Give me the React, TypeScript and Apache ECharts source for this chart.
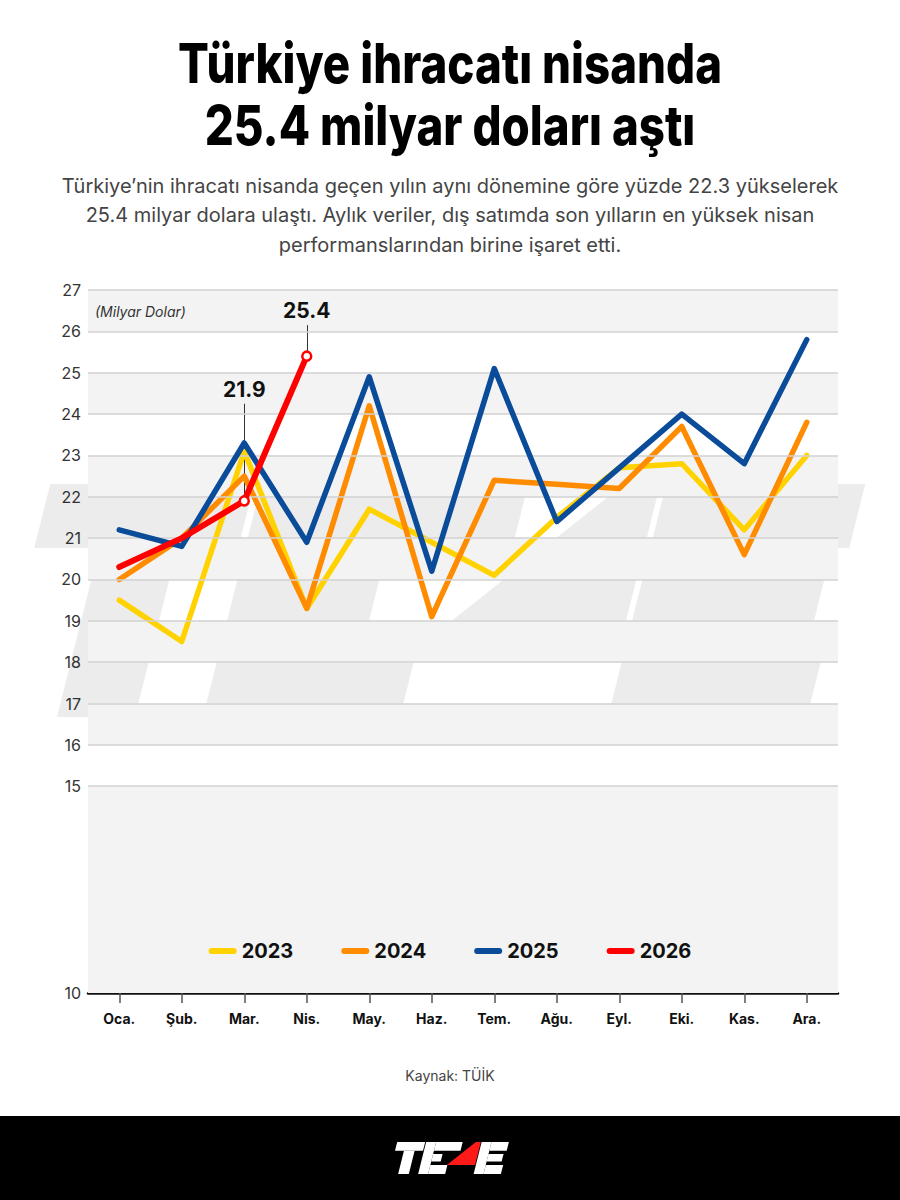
import React, { useEffect, useRef } from "react";
import * as echarts from "echarts";

// Monthly export values (billion USD)
const MONTHS = ["Oca.", "Şub.", "Mar.", "Nis.", "May.", "Haz.", "Tem.", "Ağu.", "Eyl.", "Eki.", "Kas.", "Ara."];
const Y2023 = [19.5, 18.5, 23.1, 19.3, 21.7, 20.9, 20.1, 21.5, 22.7, 22.8, 21.2, 23.0];
const Y2024 = [20.0, 21.0, 22.5, 19.3, 24.2, 19.1, 22.4, 22.3, 22.2, 23.7, 20.6, 23.8];
const Y2025 = [21.2, 20.8, 23.3, 20.9, 24.9, 20.2, 25.1, 21.4, 22.7, 24.0, 22.8, 25.8];
const Y2026 = [20.3, 21.0, 21.9, 25.4];

const SERIES_NAMES = ["2023", "2024", "2025", "2026"];
const SERIES_DATA = [Y2023, Y2024, Y2025, Y2026];
const COLORS = ["#FFD200", "#FF8C00", "#0A4C9A", "#FF0000"];

// Value axis
const Y_MIN = 10;
const Y_MAX = 27;
const Y_LABELS = [10, 15, 16, 17, 18, 19, 20, 21, 22, 23, 24, 25, 26, 27];
const GRID_VALUES = [15, 16, 17, 18, 19, 20, 21, 22, 23, 24, 25, 26, 27];
const BANDS = [[10, 15], [16, 17], [18, 19], [20, 21], [22, 23], [24, 25], [26, 27]];

// Highlighted 2026 points with their callout heights (axis units)
const CALLOUTS = [
  { month: "Mar.", value: 21.9, top: 24.25 },
  { month: "Nis.", value: 25.4, top: 26.15 },
];

const TITLE_LINES = ["Türkiye ihracatı nisanda", "25.4 milyar doları aştı"];
const SUBTITLE_LINES = [
  "Türkiye’nin ihracatı nisanda geçen yılın aynı dönemine göre yüzde 22.3 yükselerek",
  "25.4 milyar dolara ulaştı. Aylık veriler, dış satımda son yılların en yüksek nisan",
  "performanslarından birine işaret etti.",
];
const UNIT_TEXT = "(Milyar Dolar)";
const SOURCE_TEXT = "Kaynak: TÜİK";

// Brand mark geometry (upright letters, sheared afterwards)
const LOGO_H = 233;
const LOGO_SLANT = 0.25;
const box = (x0: number, y0: number, x1: number, y1: number) => [[x0, y0], [x1, y0], [x1, y1], [x0, y1]];
const LOGO_PARTS: { pts: number[][]; accent?: boolean }[] = [
  { pts: box(-8, 0, 196, 64) },
  { pts: box(57, 64, 135, 233) },
  { pts: box(203, 0, 276, 233) },
  { pts: box(276, 0, 470, 64) },
  { pts: box(276, 88, 345, 143) },
  { pts: box(276, 168, 400, 233) },
  { pts: [[566, 0], [602, 0], [602, 168], [396, 168]], accent: true },
  { pts: box(608, 0, 680, 233) },
  { pts: box(680, 0, 807, 64) },
  { pts: box(680, 88, 790, 143) },
  { pts: box(680, 168, 807, 233) },
];
const skew = (pts: number[][]) => pts.map(([X, Y]) => [X + LOGO_SLANT * (LOGO_H - Y), Y]);

function logoGroup(x: number, y: number, scale: number, fill: string, accent: string, z: number) {
  return {
    type: "group",
    x,
    y,
    scaleX: scale,
    scaleY: scale,
    z,
    silent: true,
    children: LOGO_PARTS.map((p) => ({
      type: "polygon",
      z,
      shape: { points: skew(p.pts) },
      style: { fill: p.accent ? accent : fill },
    })),
  };
}

function textEl(text: string, x: number, y: number, font: string, fill: string, scaleX = 1, align = "center") {
  return {
    type: "text",
    x,
    y,
    scaleX,
    z: 5,
    silent: true,
    style: {
      text,
      font,
      fill,
      textAlign: align,
      align,
      textVerticalAlign: "middle",
      verticalAlign: "middle",
    },
  };
}

export default function App() {
  const ref = useRef<HTMLDivElement>(null);

  useEffect(() => {
    if (!ref.current) return;
    const chart = echarts.init(ref.current, undefined, { renderer: "svg" });

    const lineSeries = SERIES_NAMES.map((name, i) => {
      const isCurrent = i === SERIES_NAMES.length - 1;
      const data = SERIES_DATA[i].map((v, j) => {
        const hit = isCurrent && CALLOUTS.some((c) => c.month === MONTHS[j]);
        return hit
          ? {
              value: v,
              symbol: "circle",
              symbolSize: 9,
              itemStyle: { color: "#ffffff", borderColor: COLORS[i], borderWidth: 2.5 },
            }
          : { value: v, symbol: "none" };
      });
      return {
        name,
        type: "line",
        data,
        z: 3 + i,
        showSymbol: true,
        symbol: "none",
        itemStyle: { color: COLORS[i] },
        lineStyle: { color: COLORS[i], width: isCurrent ? 6 : 5.5, cap: "round", join: "round" },
        emphasis: { disabled: true },
        silent: true,
        markLine: isCurrent
          ? {
              silent: true,
              symbol: "none",
              z: 2,
              lineStyle: { color: "#333333", width: 1, type: "solid" },
              label: {
                show: true,
                position: "end",
                formatter: "{b}",
                fontFamily: "Inter",
                fontWeight: "bold",
                fontSize: 21,
                color: "#111111",
                distance: 4,
              },
              data: CALLOUTS.map((c) => [
                { name: String(c.value), coord: [c.month, c.value] },
                { coord: [c.month, c.top] },
              ]),
            }
          : undefined,
      };
    });

    const backdrop = {
      name: "backdrop",
      type: "line",
      data: [],
      z: 0,
      silent: true,
      markArea: {
        silent: true,
        itemStyle: { color: "#f3f3f3" },
        data: BANDS.map(([a, b]) => [{ yAxis: a }, { yAxis: b }]),
      },
      markLine: {
        silent: true,
        symbol: "none",
        label: { show: false },
        lineStyle: { color: "#d2d2d2", width: 1.5, type: "solid" },
        data: GRID_VALUES.map((v) => ({ yAxis: v })),
      },
    };

    const option = {
      animation: false,
      backgroundColor: "#ffffff",
      grid: { left: 88, right: 62, top: 290, bottom: 207 },
      legend: {
        data: SERIES_NAMES,
        left: "center",
        top: 936,
        itemWidth: 28,
        itemHeight: 7,
        itemGap: 48,
        icon: "path://M3 0H25A3 3 0 0 1 25 6H3A3 3 0 0 1 3 0Z",
        selectedMode: false,
        textStyle: { fontFamily: "Inter", fontWeight: "bold", fontSize: 20, color: "#111111" },
      },
      xAxis: {
        type: "category",
        data: MONTHS,
        boundaryGap: true,
        axisLine: { lineStyle: { color: "#111111", width: 2.5 } },
        axisTick: { show: true, alignWithLabel: true, length: 10, lineStyle: { color: "#555555", width: 1.5 } },
        axisLabel: { fontFamily: "Inter", fontWeight: "bold", fontSize: 14, color: "#111111", margin: 18 },
        splitLine: { show: false },
      },
      yAxis: {
        type: "value",
        min: Y_MIN,
        max: Y_MAX,
        interval: 1,
        axisLine: { show: false },
        axisTick: { show: false },
        splitLine: { show: false },
        axisLabel: {
          fontFamily: "Inter",
          fontSize: 16,
          color: "#333333",
          margin: 7,
          formatter: (v: number) => (Y_LABELS.includes(v) ? String(v) : ""),
        },
      },
      graphic: [
        textEl(TITLE_LINES[0], 450, 63, "800 55px Inter", "#000000", 0.83),
        textEl(TITLE_LINES[1], 450, 125, "800 55px Inter", "#000000", 0.83),
        textEl(SUBTITLE_LINES[0], 450, 186, "400 20px Inter", "#444444", 1),
        textEl(SUBTITLE_LINES[1], 450, 215, "400 20px Inter", "#444444", 1),
        textEl(SUBTITLE_LINES[2], 450, 245, "400 20px Inter", "#444444", 1),
        textEl(UNIT_TEXT, 95, 311, "italic 400 14px Inter", "#333333", 1, "left"),
        textEl(SOURCE_TEXT, 450, 1075, "400 14px Inter", "#444444", 1),
        logoGroup(0, 484, 1, "rgba(0,0,0,0.075)", "rgba(0,0,0,0.075)", 1),
        {
          type: "rect",
          z: 4,
          silent: true,
          shape: { x: 0, y: 1116, width: 900, height: 84 },
          style: { fill: "#000000" },
        },
        logoGroup(395 - 34 * 0.137, 1142, 0.137, "#ffffff", "#ff1a1a", 6),
      ],
      series: [backdrop, ...lineSeries],
    };

    chart.setOption(option as any);
    return () => chart.dispose();
  }, []);

  return (
    <div
      ref={ref}
      style={{ position: "fixed", left: 0, top: 0, width: 900, height: 1200, background: "#ffffff" }}
    />
  );
}
